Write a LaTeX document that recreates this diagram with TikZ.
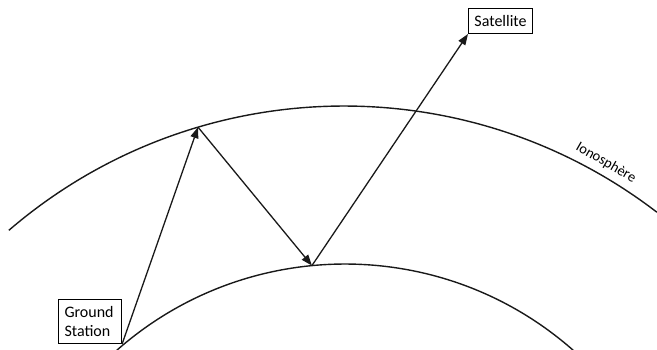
\documentclass[tikz,border=0pt]{standalone}
\usepackage{fontspec}
\setmainfont{Carlito}
\usetikzlibrary{arrows.meta}
\begin{document}
\begin{tikzpicture}[x=1pt,y=1pt,
  layer/.style={line width=1.4pt, black!90},
  ray/.style={line width=1.3pt, black!90, -{Triangle[length=11pt,width=8pt]}},
  labelbox/.style={draw, line width=1.1pt, font=\fontsize{16}{18.5}\selectfont, align=left}]
\useasboundingbox (0,0) rectangle (657,350);
% centres of the two circular layers
\coordinate (ionoc) at (344,-270);
\coordinate (earthc) at (345,-259);
% ionosphere and ground surface
\draw[layer] (ionoc) ++(130.7:514) arc[start angle=130.7, end angle=52.5, radius=514];
\draw[layer] (earthc) ++(131.4:345) arc[start angle=131.4, end angle=48.6, radius=345];
\path (ionoc) ++(60.2:527) node[rotate=-29.8, inner sep=0pt, font=\fontsize{14.5}{16}\selectfont] (ionolabel) {Ionosphère};
% stations
\node[labelbox, text width=51pt, inner xsep=6pt, inner ysep=3pt, minimum height=44pt, anchor=south west] (gs) at (58,6) {Ground\\Station};
\node[labelbox, minimum width=64pt, minimum height=25pt, inner sep=2pt, anchor=south west] (sat) at (468,316) {Satellite};
% reflection points
\path (ionoc) ++(106.5:514) coordinate (bounce1);
\path (earthc) ++(95.5:345) coordinate (bounce2);
% signal path
\draw[ray] (gs.south east) -- (bounce1);
\draw[ray] (bounce1) -- (bounce2);
\draw[ray] (bounce2) -- (sat.south west);
\end{tikzpicture}
\end{document}
